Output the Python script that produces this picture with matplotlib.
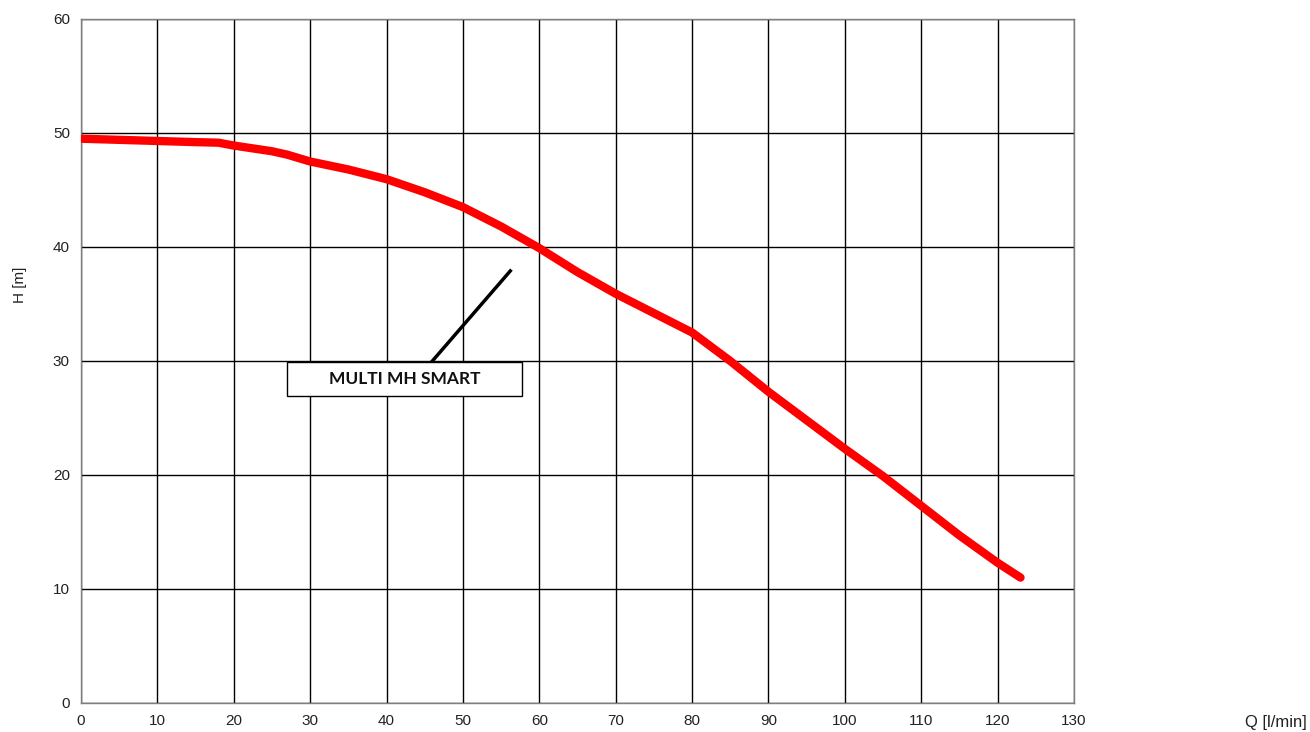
import matplotlib as mpl
mpl.rcParams['font.family'] = ['Liberation Sans', 'DejaVu Sans']
import matplotlib.pyplot as plt
from matplotlib.patches import Rectangle
import numpy as np

# curva H-Q
q = [0, 5, 10, 15, 18, 20, 25, 27, 30, 35, 40, 45, 50, 55, 60, 65, 70, 75, 80,
     85, 90, 95, 100, 105, 110, 115, 120, 123]
h = [49.5, 49.4, 49.3, 49.2, 49.15, 48.9, 48.4, 48.1, 47.5, 46.8, 45.95, 44.8, 43.5,
     41.8, 39.9, 37.8, 35.9, 34.2, 32.5, 30.0, 27.3, 24.8, 22.3, 19.9, 17.3, 14.7,
     12.3, 11.0]
label = 'MULTI MH SMART'

fig = plt.figure(figsize=(13.1, 7.32), dpi=100)
ax = fig.add_axes([81/1310, 1-703/732, (1074-81)/1310, (703-19)/732])

ax.plot(q, h, color='#ff0000', lw=6, solid_capstyle='round', solid_joinstyle='round', zorder=3)

ax.set_xlim(0, 130)
ax.set_ylim(0, 60)
ax.set_xticks(np.arange(0, 131, 10))
ax.set_yticks(np.arange(0, 61, 10))
ax.tick_params(length=0, labelsize=11, colors='#222222', pad=8)
ax.grid(True, color='black', lw=1)
for s in ax.spines.values():
    s.set_color('#7f7f7f')
    s.set_linewidth(1)

# etichetta
ax.plot([46, 56.2], [30, 37.9], color='black', lw=2.5, zorder=4)
ax.add_patch(Rectangle((27.0, 26.95), 30.75, 3.0, fc='white', ec='black', lw=1, zorder=5))
ax.text(42.35, 28.4, label, ha='center', va='center', fontsize=12.5, fontweight='bold',
        family=['Lato', 'DejaVu Sans'], color='#111111', zorder=6)

fig.text(20/1310, 1-285/732, 'H [m]', rotation=90, ha='center', va='center', fontsize=11, color='#222222')
fig.text(1307/1310, 1-722/732, 'Q [l/min]', ha='right', va='center', fontsize=12, color='#222222')

fig.savefig('out.png', dpi=100)
